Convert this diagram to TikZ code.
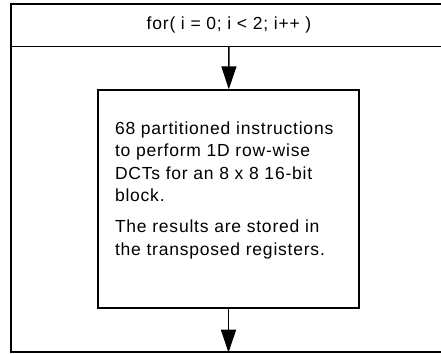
\documentclass[tikz,border=0pt]{standalone}
\usepackage{fontspec}
\newfontfamily\diagfont{Liberation Sans}[LetterSpace=4.5]
\usetikzlibrary{arrows.meta,positioning}

\begin{document}
\begin{tikzpicture}[
    x=1pt,
    y=-1pt,
    line width=1.4pt,
    >={Triangle[length=23pt,width=15pt]},
    box/.style={
        rectangle,
        draw,
        inner sep=0pt,
    },
    every node/.append style={
        font=\diagfont\fontsize{17.5}{22.3}\selectfont,
    },
]
    \clip (0,0) rectangle (441,353);
    \begin{scope}[
        every node/.append style={
            box,
        },
    ]
        \node (frame) [minimum width=436pt, minimum height=348pt]  at (229,178)   {};
        \node (head)  [minimum width=436pt, minimum height=42.5pt] at (229,25.25) {for( i = 0; i < 2; i++ )};
        \node (body)  [minimum width=261pt, minimum height=218pt]  at (228.5,199) {};
    \end{scope}
    \node (note) [inner sep=0pt, align=left, below right=32pt and 17pt of body.north west]
        {68 partitioned instructions\\to perform 1D row-wise\\DCTs for an 8 x 8 16-bit\\block.\\[9pt]The results are stored in\\the transposed registers.};

    \path[->]
    (head) edge (body)
    (body) edge (body.south |- frame.south);
\end{tikzpicture}
\end{document}
